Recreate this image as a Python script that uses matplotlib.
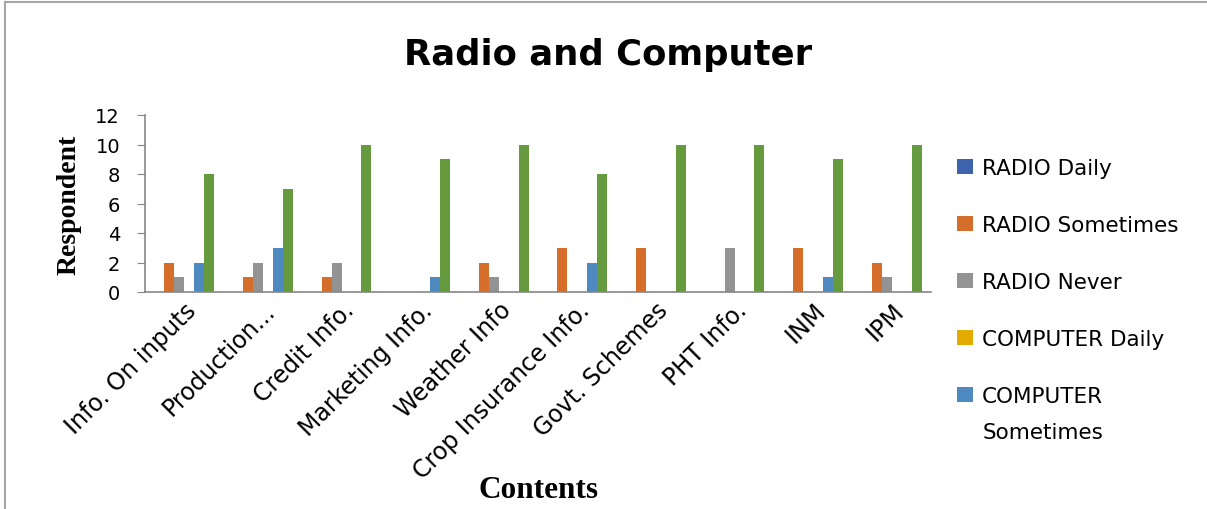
import numpy as np
import matplotlib.pyplot as plt
from matplotlib.lines import Line2D

contents = ['Info. On inputs', 'Production...', 'Credit Info.', 'Marketing Info.', 'Weather Info',
            'Crop Insurance Info.', 'Govt. Schemes', 'PHT Info.', 'INM', 'IPM']
series_names = ['RADIO Daily', 'RADIO Sometimes', 'RADIO Never',
                'COMPUTER Daily', 'COMPUTER Sometimes', 'COMPUTER Never']
radio_daily = [0, 0, 0, 0, 0, 0, 0, 0, 0, 0]
radio_sometimes = [2, 1, 1, 0, 2, 3, 3, 0, 3, 2]
radio_never = [1, 2, 2, 0, 1, 0, 0, 3, 0, 1]
computer_daily = [0, 0, 0, 0, 0, 0, 0, 0, 0, 0]
computer_sometimes = [2, 3, 0, 1, 0, 2, 0, 0, 1, 0]
computer_never = [8, 7, 10, 9, 10, 8, 10, 10, 9, 10]
colors = ['#3F64AE', '#D56E2A', '#939393', '#E3AB00', '#4E89C0', '#659A3E']

series = [radio_daily, radio_sometimes, radio_never, computer_daily, computer_sometimes, computer_never]

plt.rcParams['font.family'] = ['DejaVu Sans']
fig = plt.figure(figsize=(12.07, 5.10), dpi=100)
ax = fig.add_axes([145 / 1207, 1 - 293 / 510, 786 / 1207, 177 / 510])

x = np.arange(len(contents))
w = 0.127
bars = []
for i, vals in enumerate(series):
    b = ax.bar(x + (i - 2.5) * w, vals, width=w, color=colors[i], label=series_names[i])
    bars.append(b)

ax.set_xlim(-0.5, len(contents) - 0.5)
ax.set_ylim(0, 12)
ax.set_yticks(range(0, 13, 2))
ax.set_xticks(x)
ax.set_xticklabels(contents, rotation=45, ha='right', va='top', rotation_mode='anchor', fontsize=17)
ax.tick_params(axis='y', labelsize=14, length=6, color='#868686', pad=12)
ax.tick_params(axis='x', length=0, pad=4)
for s in ['top', 'right']:
    ax.spines[s].set_visible(False)
for s in ['left', 'bottom']:
    ax.spines[s].set_color('#868686')
    ax.spines[s].set_linewidth(1.2)

fig.text(608 / 1207, 1 - 55 / 510, 'Radio and Computer', ha='center', va='center',
         fontsize=25.5, fontweight='bold')
ax.set_ylabel('Respondent', family='Liberation Serif', fontweight='bold', fontsize=20, labelpad=10)
fig.text(538 / 1207, 1 - 491 / 510, 'Contents', ha='center', va='center',
         family='Liberation Serif', fontweight='bold', fontsize=22.5)

# legend: the last entry wraps onto a second line, the 6th entry is cut off in the original
labels = series_names[:4] + ['COMPUTER']
leg = fig.legend(bars[:5], labels, loc='upper left', bbox_to_anchor=(957 / 1207, 1 - 159 / 510),
                 frameon=False, fontsize=15.5, labelspacing=1.72, handlelength=0.75, handleheight=0.75,
                 handletextpad=0.4, borderpad=0, borderaxespad=0)
fig.text(983 / 1207, 1 - 433 / 510, 'Sometimes', ha='left', va='center', fontsize=15.5)

# chart area border (cut off on right and bottom)
fig.add_artist(Line2D([5 / 1207, 1], [1 - 3 / 510, 1 - 3 / 510], color='#A6A6A6', lw=1.5))
fig.add_artist(Line2D([5 / 1207, 5 / 1207], [0, 1 - 3 / 510], color='#A6A6A6', lw=1.5))

fig.savefig('out.png', dpi=100)
